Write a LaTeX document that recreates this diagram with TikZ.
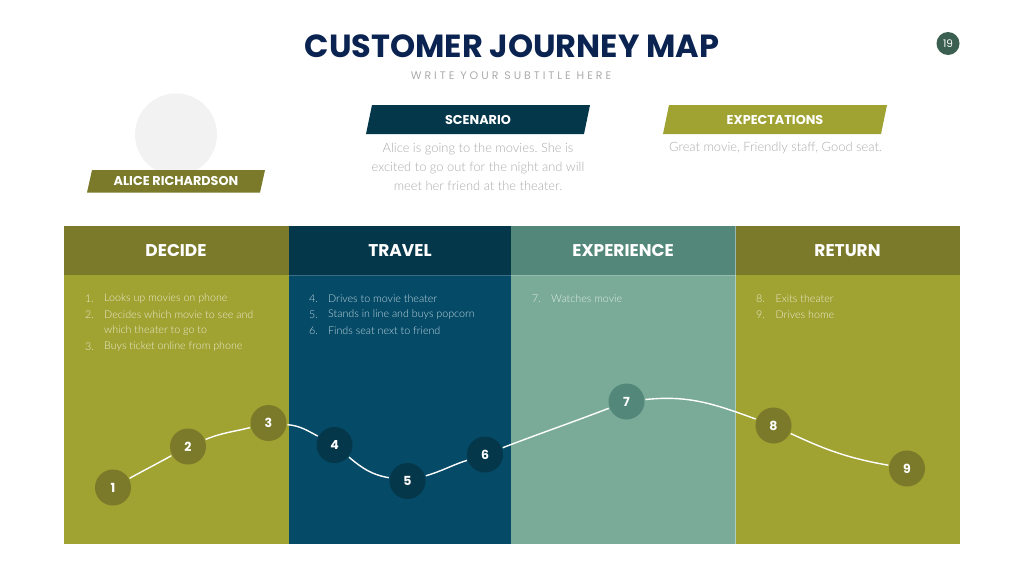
\documentclass[tikz,border=0pt]{standalone}
\usepackage{fontspec}
\setmainfont{Lato Light}
\newfontfamily\headfont{Poppins}
\definecolor{navy}{HTML}{0A2351}
\definecolor{olive}{HTML}{A0A232}
\definecolor{olivedark}{HTML}{7A7A2A}
\definecolor{ocean}{HTML}{054A67}
\definecolor{oceandark}{HTML}{05374B}
\definecolor{sage}{HTML}{7AAB98}
\definecolor{sagedark}{HTML}{53877A}
\definecolor{pagebadge}{HTML}{3B5F50}
\definecolor{greytext}{HTML}{ABABAB}
\definecolor{olivetext}{HTML}{EBECD0}
\definecolor{oceantext}{HTML}{C0D6DF}
\definecolor{sagetext}{HTML}{E0EDE8}
\tikzset{
  head/.style={font=\headfont\bfseries\fontsize{17}{17}\selectfont, text=white},
  banner/.style={font=\headfont\bfseries\fontsize{12.8}{13}\selectfont, text=white},
  item/.style={anchor=west, inner sep=0pt, font=\fontsize{10.7}{11}\selectfont},
  stop/.style={circle, minimum size=36pt, inner sep=0pt, outer sep=1pt,
    font=\headfont\bfseries\fontsize{12.5}{13}\selectfont, text=white},
  body/.style={align=center, text=greytext, inner sep=0pt, font=\fontsize{12.9}{19}\selectfont}
}
\begin{document}
\frenchspacing
\begin{tikzpicture}[x=1pt,y=-1pt]
      \useasboundingbox (0,0) rectangle (1024,576);

      % panels
      \fill[olivedark] (64,226) rectangle (288.5,275);
      \fill[olive] (64,275) rectangle (288.5,544);
      \fill[oceandark] (288.5,226) rectangle (511,275);
      \fill[ocean] (288.5,275) rectangle (511,544);
      \fill[sagedark] (511,226) rectangle (735.5,275);
      \fill[sage] (511,275) rectangle (735.5,544);
      \fill[olivedark] (735.5,226) rectangle (960,275);
      \fill[olive] (735.5,275) rectangle (960,544);
      \draw[white, opacity=.4, line width=.6pt] (735.5,226) -- (735.5,544);
      \draw[white, opacity=.2, line width=.6pt] (288.5,275) -- (735.5,275);

      % top part
      \node[inner sep=0pt, text=navy, font=\headfont\bfseries\fontsize{32}{32}\selectfont] (title) at (512,46.5) {CUSTOMER JOURNEY MAP};
      \node[inner sep=0pt, text=greytext, font=\headfont\fontsize{11}{11}\selectfont] (subtitle) at (511,75.5) {\addfontfeature{LetterSpace=27}WRITE YOUR SUBTITLE HERE};
      \node[circle, fill=pagebadge, minimum size=23pt, inner sep=0pt, text=white, font=\headfont\fontsize{10.5}{11}\selectfont] (page) at (948,43.5) {19};

      \fill[black!5] (176,134.5) circle (41);
      \fill[olivedark] (92,170) -- (265,170) -- (260,192.5) -- (87,192.5) -- cycle;
      \node[banner] (person) at (176,181) {ALICE RICHARDSON};

      \fill[oceandark] (372,105) -- (590,105) -- (584,134) -- (366,134) -- cycle;
      \node[banner] (scenario) at (478,119.5) {SCENARIO};
      \node[body] (scenariotext) at (478,166.5) {Alice is going to the movies. She is\\excited to go out for the night and will\\meet her friend at the theater.};

      \fill[olive] (669,105) -- (887,105) -- (881,134) -- (663,134) -- cycle;
      \node[banner] (expectations) at (775,119.5) {EXPECTATIONS};
      \node[body] (expectationstext) at (775.5,148) {Great movie, Friendly staff, Good seat.};

      % column heads
      \begin{scope}[every node/.style={head}]
        \node (decide)     at (176,250.5) {DECIDE};
        \node (travel)     at (400,250.5) {TRAVEL};
        \node (experience) at (623,250.5) {EXPERIENCE};
        \node (return)     at (847.5,250.5) {RETURN};
      \end{scope}

      % lists
      \begin{scope}[every node/.style={item, text=olivetext}]
        \node (n1) at (85,298.5) {1.};
        \node (t1) at (104,298.5) {Looks up movies on phone};
        \node (n2) at (85,314.5) {2.};
        \node (t2) at (104,314.5) {Decides which movie to see and};
        \node (t2b) at (104,330.5) {which theater to go to};
        \node (n3) at (85,346.5) {3.};
        \node (t3) at (104,346.5) {Buys ticket online from phone};
        \node (n8) at (756,298.5) {8.};
        \node (t8) at (775.5,298.5) {Exits theater};
        \node (n9) at (756,314.5) {9.};
        \node (t9) at (775.5,314.5) {Drives home};
      \end{scope}
      \begin{scope}[every node/.style={item, text=oceantext}]
        \node (n4) at (309,298.5) {4.};
        \node (t4) at (328,298.5) {Drives to movie theater};
        \node (n5) at (309,314.5) {5.};
        \node (t5) at (328,314.5) {Stands in line and buys popcorn};
        \node (n6) at (309,330.5) {6.};
        \node (t6) at (328,330.5) {Finds seat next to friend};
      \end{scope}
      \begin{scope}[every node/.style={item, text=sagetext}]
        \node (n7) at (532,298.5) {7.};
        \node (t7) at (551,298.5) {Watches movie};
      \end{scope}

      % stops
      \begin{scope}[every node/.style={stop, fill=olivedark}]
        \node (1) at (113,487.5) {1};
        \node (2) at (188,446.5) {2};
        \node (3) at (268.5,423) {3};
        \node (8) at (773.5,425.5) {8};
        \node (9) at (907,468.5) {9};
      \end{scope}
      \begin{scope}[every node/.style={stop, fill=oceandark}]
        \node (4) at (334.5,445) {4};
        \node (5) at (407.5,481) {5};
        \node (6) at (485,454.5) {6};
      \end{scope}
      \begin{scope}[every node/.style={stop, fill=sagedark}]
        \node (7) at (626.5,401.5) {7};
      \end{scope}

      % journey line
      \begin{scope}[white, line width=1.4pt]
        \draw (1) to[out=29,in=209] (2);
        \draw (2) to[out=22,in=194] (3);
        \draw (3) to[out=-5,in=152] (4);
        \draw (4) to[out=-40,in=170] (5);
        \draw (5) to[out=16,in=198] (6);
        \draw (6) to[out=21,in=201] (7);
        \draw (7) to[out=6,in=160] (8);
        \draw (8) to[out=-25,in=170] (9);
      \end{scope}

    \end{tikzpicture}
\end{document}
